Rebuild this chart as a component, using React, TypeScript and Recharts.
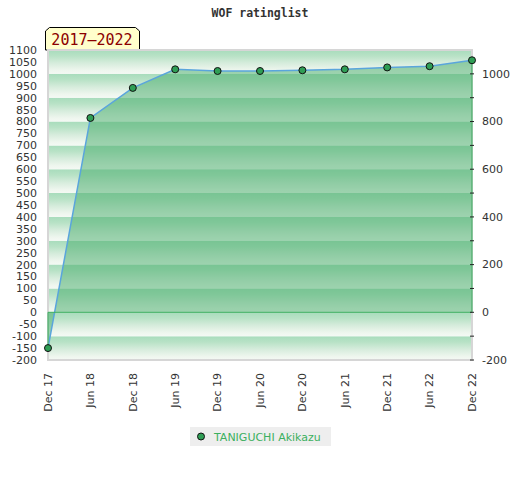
import {
  Area,
  ComposedChart,
  Line,
  ReferenceArea,
  ReferenceLine,
  XAxis,
  YAxis,
} from "recharts";

const months = [
  "Dec 17", "Jun 18", "Dec 18", "Jun 19", "Dec 19", "Jun 20",
  "Dec 20", "Jun 21", "Dec 21", "Jun 22", "Dec 22",
];
const ratings = [-150, 815, 941, 1019, 1012, 1012, 1015, 1019, 1027, 1032, 1057];

const leftTicks = [
  -200, -150, -100, -50, 0, 50, 100, 150, 200, 250, 300, 350, 400, 450,
  500, 550, 600, 650, 700, 750, 800, 850, 900, 950, 1000, 1050, 1100,
];
const rightTicks = [-200, -100, 0, 100, 200, 300, 400, 500, 600, 700, 800, 900, 1000];
const rightLabels = [-200, 0, 200, 400, 600, 800, 1000];
const bandStarts = [-200, -100, 0, 100, 200, 300, 400, 500, 600, 700, 800, 900, 1000];

const playerName = "TANIGUCHI Akikazu";
const title = "WOF ratinglist";
const period = "2017–2022";

const data = months.map((month, i) => ({ month, rating: ratings[i] }));
const first = months[0];
const last = months[months.length - 1];

const axisText = { fill: "#333", fontSize: 11, fontFamily: "DejaVu Sans" };

function MonthTick({ x, y, payload }: any) {
  return (
    <text
      transform={`translate(${x},${y}) rotate(-90)`}
      textAnchor="end"
      dy="0.35em"
      {...axisText}
    >
      {payload.value}
    </text>
  );
}

function RightTick({ x, y, payload }: any) {
  const labelled = rightLabels.includes(Number(payload.value));
  return (
    <g>
      <line x1={x - 5} x2={x - 1} y1={y} y2={y} stroke="#222" strokeWidth={1} />
      {labelled && (
        <text x={x + 7} y={y} dy="0.35em" textAnchor="start" {...axisText}>
          {payload.value}
        </text>
      )}
    </g>
  );
}

export default function App() {
  return (
    <div style={{ position: "absolute", left: 0, top: 0, width: 520, height: 480, background: "#fff" }}>
      <ComposedChart
        width={520}
        height={480}
        data={data}
        margin={{ top: 50, right: 0, bottom: 60, left: 0 }}
      >
        <defs>
          <linearGradient id="band" x1="0" y1="0" x2="0" y2="1">
            <stop offset="0%" stopColor="#a8dcbc" />
            <stop offset="25%" stopColor="#b8e2c6" />
            <stop offset="55%" stopColor="#d6ecdc" />
            <stop offset="85%" stopColor="#eef6ee" />
            <stop offset="100%" stopColor="#f4f9f4" />
          </linearGradient>
        </defs>
        <XAxis
          dataKey="month"
          padding={{ left: 3, right: 3 }}
          axisLine={false}
          tickLine={false}
          tickSize={0}
          tickMargin={13}
          interval={0}
          height={60}
          tick={<MonthTick />}
        />
        <YAxis
          yAxisId="left"
          domain={[-200, 1100]}
          ticks={leftTicks}
          interval={0}
          width={45}
          axisLine={false}
          tickLine={false}
          tickSize={0}
          tickMargin={8}
          tick={axisText}
        />
        <YAxis
          yAxisId="right"
          orientation="right"
          domain={[-200, 1100]}
          ticks={rightTicks}
          interval={0}
          width={45}
          axisLine={false}
          tickLine={false}
          tickSize={0}
          tickMargin={0}
          tick={<RightTick />}
        />
        {bandStarts.map((b) => (
          <ReferenceArea
            key={b}
            yAxisId="left"
            y1={b}
            y2={b + 100}
            fill="url(#band)"
            fillOpacity={1}
            stroke="none"
          />
        ))}
        <ReferenceArea
          yAxisId="left"
          y1={-200}
          y2={1100}
          fill="none"
          stroke="#d6d6d6"
          strokeWidth={2}
        />
        <Area
          yAxisId="left"
          type="linear"
          dataKey="rating"
          baseValue={0}
          fill="#4cae6f"
          fillOpacity={0.52}
          stroke="#5aa5dc"
          strokeWidth={1.5}
          dot={{ r: 3.5, fill: "#2f9e55", stroke: "#111", strokeWidth: 1, fillOpacity: 1 }}
          activeDot={false}
          isAnimationActive={false}
        />
        {/* same series on the right scale, invisible, so the right axis gets drawn */}
        <Line
          yAxisId="right"
          type="linear"
          dataKey="rating"
          stroke="none"
          dot={false}
          activeDot={false}
          legendType="none"
          isAnimationActive={false}
        />
        <ReferenceLine
          yAxisId="left"
          segment={[{ x: first, y: 0 }, { x: last, y: 0 }]}
          stroke="#3cb060"
          strokeWidth={1}
        />
        <ReferenceLine
          yAxisId="left"
          segment={[{ x: first, y: 0 }, { x: first, y: ratings[0] }]}
          stroke="#3cb060"
          strokeWidth={1}
        />
        <ReferenceLine
          yAxisId="left"
          segment={[{ x: last, y: 0 }, { x: last, y: ratings[ratings.length - 1] }]}
          stroke="#3cb060"
          strokeWidth={1}
        />
        <text
          x={260}
          y={17}
          textAnchor="middle"
          fontFamily="DejaVu Sans Mono"
          fontWeight="bold"
          fontSize={11.5}
          fill="#333"
        >
          {title}
        </text>
        <path
          d="M45.5,50 L45.5,31 L49.5,27.5 L135.5,27.5 L139.5,31 L139.5,50 Z"
          fill="#ffffcc"
          stroke="#000"
          strokeWidth={1}
        />
        <text
          x={92}
          y={45}
          textAnchor="middle"
          fontFamily="DejaVu Sans Mono"
          fontSize={15}
          fill="#8b0000"
        >
          {period}
        </text>
        <rect x={190} y={427} width={141} height={19} fill="#eeeeee" />
        <circle cx={201} cy={436.5} r={3.5} fill="#2f9e55" stroke="#111" strokeWidth={1} />
        <text x={214} y={440.5} fontFamily="DejaVu Sans" fontSize={11} fill="#3cb060">
          {playerName}
        </text>
      </ComposedChart>
    </div>
  );
}
